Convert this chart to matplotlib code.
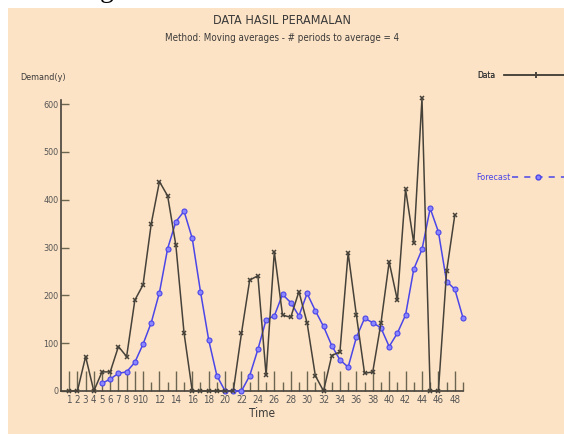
import matplotlib
matplotlib.use("Agg")
import matplotlib.pyplot as plt
from matplotlib.patches import Rectangle
from matplotlib.lines import Line2D

# Observed demand per period
time = list(range(1, 49))
demand = [0, 0, 72, 0, 40, 40, 93, 72, 190, 222, 350, 438, 408, 305, 121, 0,
          0, 0, 0, 0, 0, 121, 232, 241, 33, 291, 159, 154, 208, 142, 32, 0,
          74, 82, 289, 159, 37, 40, 142, 270, 190, 422, 309, 612, 0, 0, 250, 368]

# 4-period moving-average forecast (periods 5..49)
forecast_time = list(range(5, 50))
forecast = [16, 25, 37, 40, 60, 98, 143, 206, 298, 354, 376, 319, 208, 107, 32,
            0, 0, 0, 32, 87, 149, 157, 202, 185, 157, 204, 168, 135, 95, 65, 50,
            112, 152, 143, 132, 93, 121, 159, 255, 296, 382, 333, 229, 213, 153]

major_ticks = list(range(1, 11)) + list(range(12, 49, 2))
minor_ticks = list(range(11, 50, 2))
y_ticks = [0, 100, 200, 300, 400, 500, 600]

title = "DATA HASIL PERAMALAN"
subtitle = "Method: Moving averages - # periods to average = 4"

BG = "#FDE3C5"
DATA_C = "#46423a"
FC_C = "#4b46e8"
TXT = "#3a3a3a"
plt.rcParams["font.family"] = ["DejaVu Sans"]
plt.rcParams["font.stretch"] = "condensed"

W, H = 564, 434
fig = plt.figure(figsize=(W / 100, H / 100), dpi=100)
fig.patch.set_facecolor("white")
fig.add_artist(Rectangle((8 / W, 0), 1 - 8 / W, 1 - 8 / H,
                         transform=fig.transFigure, facecolor=BG,
                         edgecolor="none", zorder=-10))

# cropped glyph from the page above the chart
fig.text(100 / W, 1 + 3 / H, "g", fontsize=20, va="baseline",
         family=["Liberation Serif", "DejaVu Serif"], stretch="normal",
         color="black")

ax = fig.add_axes([61 / W, 43 / H, 402 / W, 306 / H])
ax.set_facecolor("none")
ax.set_xlim(0, 49)
ax.set_ylim(0, 640)

for s in ("top", "right"):
    ax.spines[s].set_visible(False)
for s in ("left", "bottom"):
    ax.spines[s].set_color(DATA_C)
    ax.spines[s].set_linewidth(1.2)
ax.spines["left"].set_bounds(0, 608)

ax.set_xticks(major_ticks)
ax.set_xticks(minor_ticks, minor=True)
ax.set_yticks(y_ticks)
ax.tick_params(axis="x", which="major", direction="in", length=14.5,
               width=1.0, color="#6b6552", pad=3, labelsize=7, labelcolor="#555555")
ax.tick_params(axis="x", which="minor", direction="in", length=6.5,
               width=1.0, color="#6b6552")
ax.tick_params(axis="y", direction="in", length=6, width=1.0,
               color="#6b6552", pad=2, labelsize=6.5, labelcolor="#555555")

ax.plot(forecast_time, forecast, color=FC_C, lw=1.1, marker="o", ms=3.6,
        mfc="#8a86ff", mec=FC_C, mew=0.8, clip_on=False, zorder=3)
ax.plot(time, demand, color=DATA_C, lw=1.1, marker="x", ms=3.5, mew=1.1,
        clip_on=False, zorder=4)

ax.set_xlabel("Time", fontsize=8.5, color=TXT, labelpad=1)
fig.text(20 / W, 1 - 77 / H, "Demand(y)", fontsize=6.5, color=TXT, va="center")

fig.text(282 / W, 1 - 20 / H, title, fontsize=9, color=TXT, ha="center", va="center")
fig.text(282 / W, 1 - 38 / H, subtitle, fontsize=7, color=TXT, ha="center", va="center")

# legend entries: label on the left, sample line on the right
leg1 = fig.legend(handles=[Line2D([], [], color=DATA_C, lw=1.1, marker="|",
                                  ms=5, mew=1.1)],
                  labels=["Data"], markerfirst=False, frameon=False,
                  loc="center left", bbox_to_anchor=(470 / W, 1 - 75 / H),
                  handlelength=7.8, handletextpad=1.0, fontsize=6,
                  labelcolor=TXT)
fig.add_artist(leg1)
fig.legend(handles=[Line2D([], [], color=FC_C, lw=1.1, ls=(0, (4, 4)),
                           marker="o", ms=3.5, mfc="#8a86ff", mec=FC_C)],
           labels=["Forecast"], markerfirst=False, frameon=False,
           loc="center left", bbox_to_anchor=(468 / W, 1 - 178 / H),
           handlelength=5.8, handletextpad=0.2, fontsize=6.5,
           labelcolor=FC_C)

fig.savefig("out.png", dpi=100, facecolor=fig.get_facecolor())
